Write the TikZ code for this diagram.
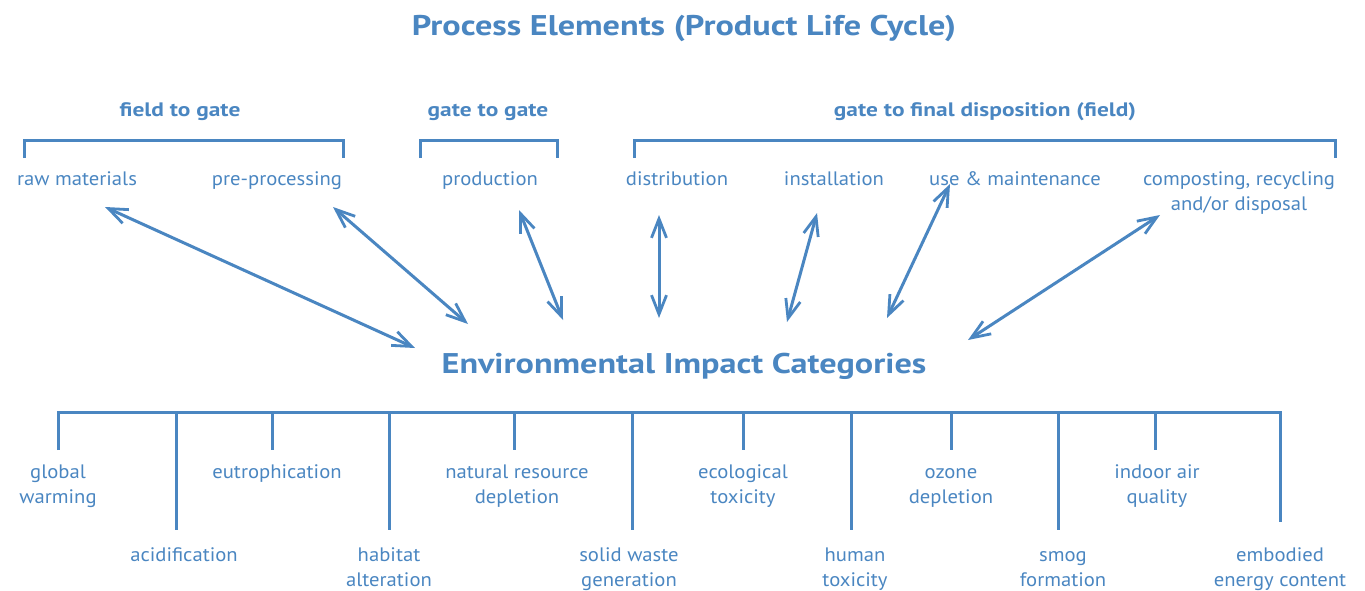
\documentclass[tikz,border=0pt]{standalone}
\usepackage{fontspec}
\setmainfont[FakeStretch=1.06]{PT Sans}
\newfontfamily\headfont[FakeStretch=1.2]{PT Sans}
\usetikzlibrary{arrows.meta}
\definecolor{ink}{HTML}{4A86C1}
\begin{document}
\begin{tikzpicture}[x=1pt,y=-1pt,
  every node/.style={text=ink,inner sep=0pt},
  lbl/.style={font=\fontsize{19.5}{25.5}\selectfont,align=center,anchor=base},
  head/.style={font=\headfont\bfseries\fontsize{19.5}{24}\selectfont,anchor=base},
  big/.style={font=\headfont\bfseries\fontsize{28.5}{32}\selectfont,anchor=base},
  bracket/.style={draw=ink,line width=3pt},
  link/.style={draw=ink,line width=3pt,{Straight Barb[length=19pt,width=15pt,line width=2.8pt]}-{Straight Barb[length=19pt,width=15pt,line width=2.8pt]}}]
\useasboundingbox (0,0) rectangle (1365,590);
% titles
\node[big] (title) at (684,35) {Process Elements (Product Life Cycle)};
\node[big] (eic) at (684,373) {Environmental Impact Categories};
% stage headings
\node[head] (fg) at (180,116) {field to gate};
\node[head] (gg) at (488,116) {gate to gate};
\node[head] (gf) at (985,116) {gate to final disposition (field)};
% brackets
\draw[bracket] (24,158) |- (343,140) -- (343,158);
\draw[bracket] (420,158) |- (557,140) -- (557,158);
\draw[bracket] (634,158) |- (1335,140) -- (1335,158);
% process elements
\node[lbl] (raw) at (77,185) {raw materials};
\node[lbl] (pre) at (277,185) {pre-processing};
\node[lbl] (prod) at (490,185) {production};
\node[lbl] (dist) at (677,185) {distribution};
\node[lbl] (inst) at (834,185) {installation};
\node[lbl] (use) at (1015,185) {use \& maintenance};
\node[lbl] (comp) at (1239,210.5) {composting, recycling\\and/or disposal};
% arrow end points
\coordinate (a1) at (105,207); \coordinate (b1) at (415,348);
\coordinate (a2) at (333,207); \coordinate (b2) at (468,324);
\coordinate (a3) at (519,210); \coordinate (b3) at (563,320);
\coordinate (a4) at (659,215); \coordinate (b4) at (659,318);
\coordinate (a5) at (817,213); \coordinate (b5) at (787,322);
\coordinate (a6) at (950,184); \coordinate (b6) at (887,318);
\coordinate (a7) at (1160,215); \coordinate (b7) at (968,340);
\foreach \i in {1,...,7} \draw[link] (a\i) -- (b\i);
% impact tree
\draw[bracket] (58,450) |- (1280,412) -- (1280,522);
\foreach \x/\y in {176/530,272/450,389/530,514/450,632/530,743/450,851/530,951/450,1058/530,1155/450}
  \draw[bracket] (\x,412) -- (\x,\y);
% impact categories
\node[lbl] (gw) at (58,503.5) {global\\warming};
\node[lbl] (eu) at (277,478) {eutrophication};
\node[lbl] (nr) at (517,503.5) {natural resource\\depletion};
\node[lbl] (et) at (743,503.5) {ecological\\toxicity};
\node[lbl] (oz) at (951,503.5) {ozone\\depletion};
\node[lbl] (ia) at (1157,503.5) {indoor air\\quality};
\node[lbl] (ac) at (184,561) {acidification};
\node[lbl] (ha) at (389,586.5) {habitat\\alteration};
\node[lbl] (sw) at (629,586.5) {solid waste\\generation};
\node[lbl] (ht) at (855,586.5) {human\\toxicity};
\node[lbl] (sm) at (1063,586.5) {smog\\formation};
\node[lbl] (em) at (1280,586.5) {embodied\\energy content};
\end{tikzpicture}
\end{document}
